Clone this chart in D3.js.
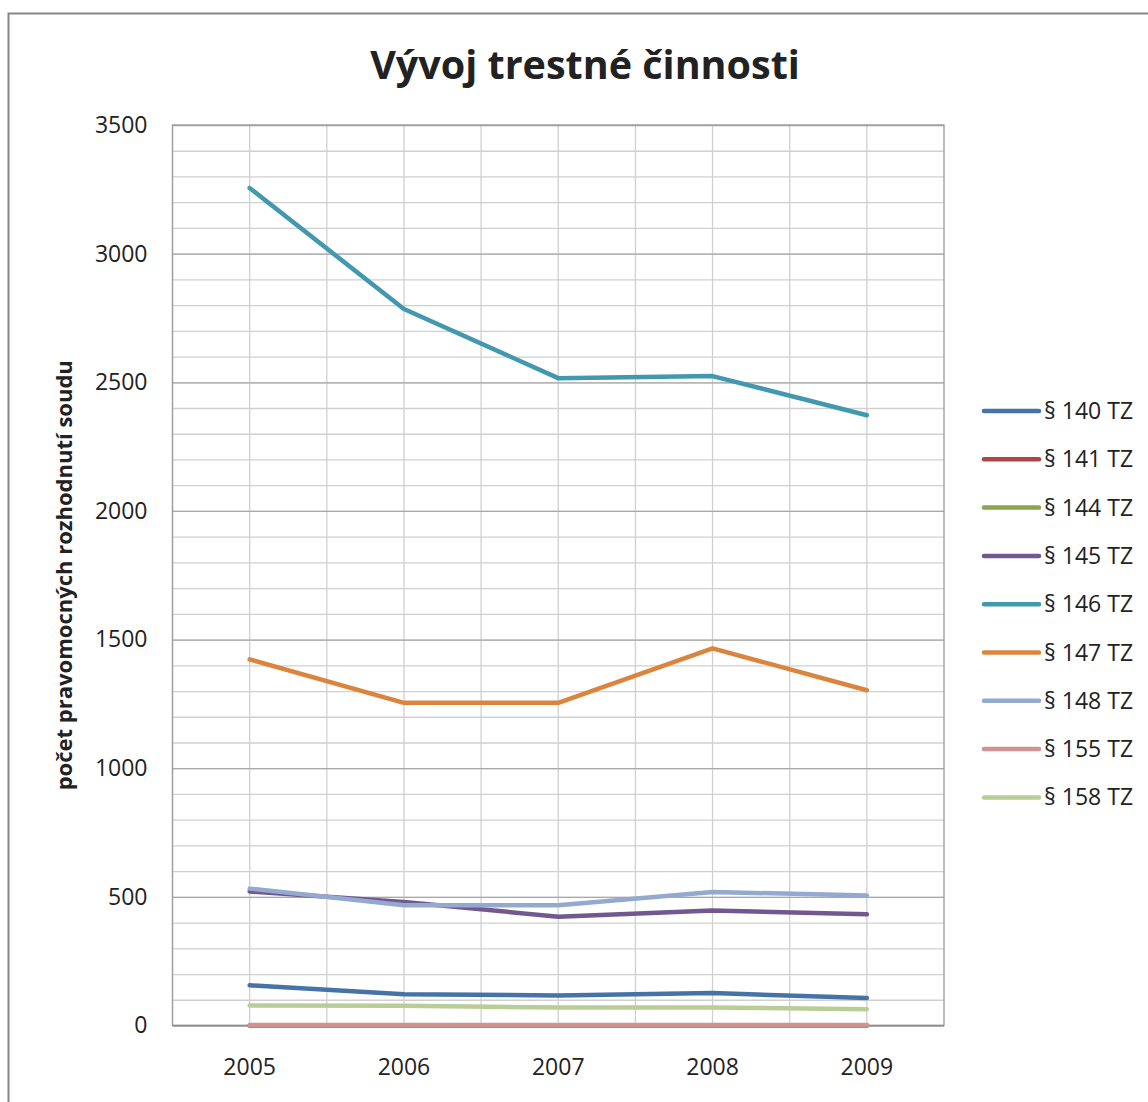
<!DOCTYPE html>
<html>
<head>
<meta charset="utf-8">
<script src="https://cdn.jsdelivr.net/npm/d3@7"></script>
<style>
  body { margin: 0; background: #fff; }
  text { font-family: "Open Sans", sans-serif; fill: #222; }
</style>
</head>
<body>
<div id="chart"></div>
<script>
"use strict"
// Data
var years = ["2005", "2006", "2007", "2008", "2009"];
var seriesNames = ["§ 140 TZ", "§ 141 TZ", "§ 144 TZ", "§ 145 TZ", "§ 146 TZ", "§ 147 TZ", "§ 148 TZ", "§ 155 TZ", "§ 158 TZ"];
var s140 = [156, 121, 117, 126, 107];
var s141 = [0, 0, 0, 0, 0];
var s144 = [0, 0, 0, 0, 0];
var s145 = [521, 480, 423, 447, 432];
var s146 = [3255, 2785, 2516, 2524, 2372];
var s147 = [1423, 1254, 1254, 1466, 1303];
var s148 = [532, 467, 467, 519, 505];
var s155 = [2, 2, 2, 2, 2];
var s158 = [78, 77, 70, 70, 63];
var yTicks = [0, 500, 1000, 1500, 2000, 2500, 3000, 3500];
var colors = ["#4572A7", "#AA4643", "#89A54E", "#71588F", "#4198AF", "#DB843D", "#93A9CF", "#D19392", "#B9CD96"];

var allSeries = [s140, s141, s144, s145, s146, s147, s148, s155, s158];

var width = 1148;
var height = 1102;
var plot = { left: 172.5, right: 944, top: 125, bottom: 1025.5 };

var svg = d3.select("#chart").append("svg")
    .attr("width", width)
    .attr("height", height);

// outer chart border
svg.append("rect")
    .attr("x", 8.5).attr("y", 13.5)
    .attr("width", width + 20).attr("height", height + 20)
    .attr("fill", "#fff")
    .attr("stroke", "#868686")
    .attr("stroke-width", 2);

var xScale = d3.scaleBand().domain(years).range([plot.left, plot.right]).padding(0);
var yScale = d3.scaleLinear().domain([0, 3500]).range([plot.bottom, plot.top]);
var X = function(d, i) { return xScale(years[i]) + xScale.bandwidth() / 2; };

// minor horizontal grid (every 100)
svg.append("g")
    .attr("transform", "translate(" + plot.left + ",0)")
    .call(d3.axisLeft(yScale).tickValues(d3.range(100, 3500, 100)).tickSize(-(plot.right - plot.left)).tickFormat(""))
    .call(function(g) { g.select(".domain").remove(); })
    .selectAll("line").attr("stroke", "#d0d0d0").attr("stroke-width", 1.3);

// vertical grid (band edges and centres)
var vLines = [];
years.forEach(function(y) {
  vLines.push(xScale(y));
  vLines.push(xScale(y) + xScale.bandwidth() / 2);
});
svg.append("g").selectAll("line").data(vLines).enter().append("line")
    .attr("x1", function(d) { return d; }).attr("x2", function(d) { return d; })
    .attr("y1", plot.top).attr("y2", plot.bottom)
    .attr("stroke", "#d0d0d0").attr("stroke-width", 1.3);

// major horizontal grid (every 500)
svg.append("g")
    .attr("transform", "translate(" + plot.left + ",0)")
    .call(d3.axisLeft(yScale).tickValues(yTicks).tickSize(-(plot.right - plot.left)).tickFormat(""))
    .call(function(g) { g.select(".domain").remove(); })
    .selectAll("line").attr("stroke", "#a8a8a8").attr("stroke-width", 1.3);

// plot border
svg.append("rect")
    .attr("x", plot.left).attr("y", plot.top)
    .attr("width", plot.right - plot.left).attr("height", plot.bottom - plot.top)
    .attr("fill", "none").attr("stroke", "#9a9a9a").attr("stroke-width", 1.3);

// y axis labels
var yAxis = svg.append("g")
    .attr("transform", "translate(" + plot.left + ",0)")
    .call(d3.axisLeft(yScale).tickValues(yTicks).tickSize(0).tickPadding(25).tickFormat(d3.format("d")));
yAxis.select(".domain").remove();
yAxis.selectAll("text").style("font-size", "23px").style("font-family", "'Open Sans', sans-serif").attr("fill", "#222");

// x axis labels
var xAxis = svg.append("g")
    .attr("transform", "translate(0," + plot.bottom + ")")
    .call(d3.axisBottom(xScale).tickSize(0).tickPadding(33));
xAxis.select(".domain").remove();
xAxis.selectAll("text").style("font-size", "23px").style("font-family", "'Open Sans', sans-serif").attr("fill", "#222");

// zero line
svg.append("line")
    .attr("x1", plot.left).attr("x2", plot.right)
    .attr("y1", yScale(0)).attr("y2", yScale(0))
    .attr("stroke", "#8c8c8c").attr("stroke-width", 1.5);

// series lines
var line = d3.line().x(X).y(function(d) { return yScale(d); });
svg.append("g").selectAll("path").data(allSeries).enter().append("path")
    .attr("d", line)
    .attr("fill", "none")
    .attr("stroke", function(d, i) { return colors[i]; })
    .attr("stroke-width", 4.5)
    .attr("stroke-linejoin", "round")
    .attr("stroke-linecap", "round");

// title
svg.append("text")
    .attr("x", 585).attr("y", 79)
    .attr("text-anchor", "middle")
    .style("font-size", "39.5px").style("font-weight", "bold")
    .text("Vývoj trestné činnosti");

// y axis title
svg.append("text")
    .attr("transform", "translate(72," + ((plot.top + plot.bottom) / 2) + ") rotate(-90)")
    .attr("text-anchor", "middle")
    .style("font-size", "22px").style("font-weight", "bold")
    .text("počet pravomocných rozhodnutí soudu");

// legend
var legend = svg.append("g").selectAll("g").data(seriesNames).enter().append("g")
    .attr("transform", function(d, i) { return "translate(984," + (411 + i * 48.3) + ")"; });
legend.append("line")
    .attr("x1", 0).attr("x2", 55).attr("y1", 0).attr("y2", 0)
    .attr("stroke", function(d, i) { return colors[i]; })
    .attr("stroke-width", 4.5)
    .attr("stroke-linecap", "round");
legend.append("text")
    .attr("x", 60).attr("y", 8)
    .style("font-size", "23px")
    .text(function(d) { return d; });
</script>
</body>
</html>
